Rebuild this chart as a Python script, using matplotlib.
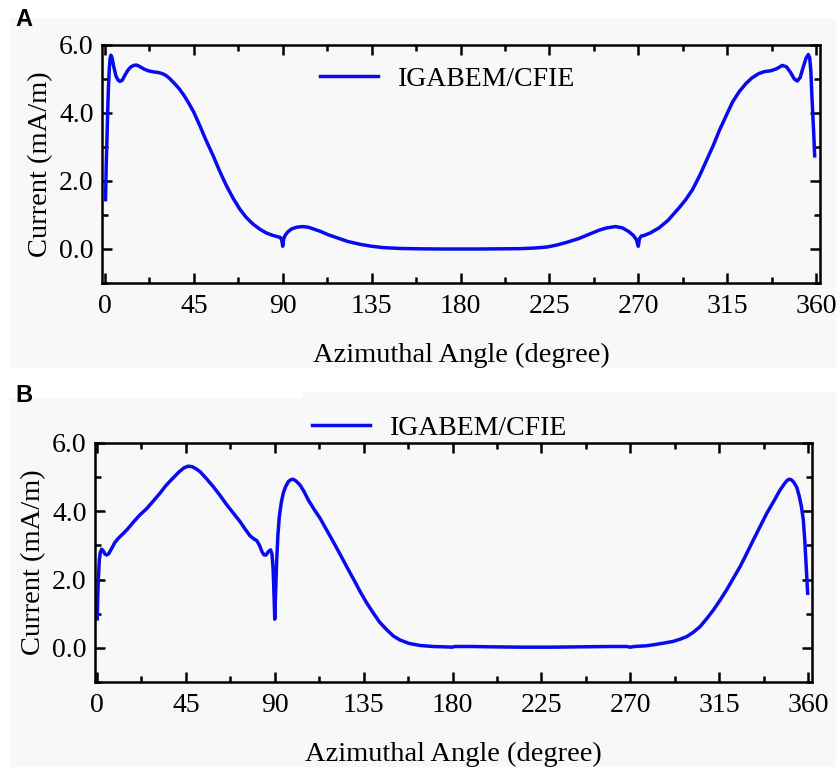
import matplotlib
matplotlib.use("Agg")
import matplotlib.pyplot as plt
from matplotlib.patches import Rectangle
from matplotlib.ticker import MultipleLocator, FormatStrFormatter

# Panel A: surface current vs azimuthal angle
theta_a = [0.3, 0.6, 1.0, 1.4, 1.7, 2.2, 2.6, 3.0, 3.6, 4.5, 5.5, 6.5, 7.5, 8.7,
           10.0, 11.5, 13.0, 14.5, 16.0, 17.5, 19.5, 22.0, 24.5, 27.0, 29.0, 31.0,
           33.0, 35.0, 37.5, 40.0, 42.5, 45.0, 48.0, 51.0, 54.8, 58.0, 61.5, 65.0,
           68.3, 71.5, 75.0, 78.5, 81.7, 85.0, 87.5, 88.8, 89.5, 90.0, 90.5, 91.2,
           92.5, 94.5, 97.0, 100.0, 103.0, 106.0, 109.0, 113.0, 118.0, 123.0,
           129.0, 135.0, 141.0, 150.0, 160.0, 170.0, 180.0, 190.0, 200.0, 210.0,
           218.0, 224.0, 229.0, 234.0, 240.0, 245.0, 250.0, 254.0, 258.5, 262.0,
           265.0, 267.5, 269.0, 270.0, 270.6, 271.5, 273.0, 276.0, 280.5, 285.0,
           290.5, 294.0, 297.5, 301.0, 304.5, 308.0, 311.0, 314.5, 317.7, 321.0,
           324.4, 327.5, 331.0, 334.0, 337.0, 340.0, 342.9, 345.0, 347.0, 349.0,
           350.5, 352.0, 353.5, 355.0, 356.1, 356.8, 357.4, 357.9, 358.4, 358.9,
           359.3]
current_a = [1.45, 2.4, 3.2, 4.1, 4.66, 5.3, 5.6, 5.70, 5.62, 5.35, 5.10, 4.98,
             4.93, 4.96, 5.10, 5.25, 5.35, 5.40, 5.41, 5.37, 5.30, 5.24, 5.21,
             5.19, 5.16, 5.10, 5.00, 4.88, 4.72, 4.52, 4.28, 4.02, 3.63, 3.22,
             2.74, 2.30, 1.86, 1.48, 1.17, 0.93, 0.73, 0.58, 0.47, 0.40, 0.36,
             0.34, 0.26, 0.08, 0.30, 0.40, 0.50, 0.59, 0.64, 0.66, 0.64, 0.58,
             0.52, 0.42, 0.32, 0.22, 0.14, 0.08, 0.04, 0.015, 0.005, 0.0, 0.0,
             0.0, 0.005, 0.01, 0.03, 0.06, 0.12, 0.20, 0.31, 0.43, 0.55, 0.62,
             0.66, 0.62, 0.52, 0.40, 0.28, 0.08, 0.30, 0.38, 0.40, 0.47, 0.62,
             0.84, 1.20, 1.45, 1.75, 2.15, 2.60, 3.05, 3.48, 3.92, 4.32, 4.62,
             4.86, 5.03, 5.16, 5.22, 5.24, 5.30, 5.40, 5.36, 5.20, 5.00, 4.94,
             5.05, 5.35, 5.62, 5.72, 5.62, 5.20, 4.50, 3.90, 3.30, 2.74]

# Panel B
theta_b = [0.15, 0.4, 0.66, 1.2, 1.7, 2.4, 3.2, 4.0, 4.9, 6.0, 7.5, 9.1, 11.0,
           13.3, 15.5, 18.4, 21.5, 25.2, 28.5, 31.9, 35.0, 38.6, 41.5, 44.0,
           46.0, 48.0, 50.0, 52.2, 55.5, 58.9, 62.5, 65.7, 69.0, 72.4, 75.0,
           77.5, 79.5, 80.9, 82.3, 83.5, 84.6, 85.6, 86.8, 87.9, 88.6, 89.2,
           89.6, 90.0, 90.4, 91.0, 91.6, 92.3, 93.3, 94.3, 95.5, 96.9, 98.0,
           99.1, 100.5, 102.8, 104.8, 107.0, 110.0, 112.9, 116.0, 119.6, 123.0,
           126.4, 130.0, 133.2, 136.5, 139.9, 143.0, 146.7, 150.0, 153.4, 158.0,
           163.5, 170.0, 176.0, 180.0, 181.0, 190.0, 200.0, 215.0, 230.0, 245.0,
           260.0, 268.0, 270.0, 272.0, 278.0, 281.7, 287.0, 291.8, 295.5, 298.6,
           302.0, 305.3, 308.5, 312.1, 315.5, 318.8, 322.0, 325.6, 329.0, 332.3,
           335.7, 339.1, 342.5, 345.8, 348.2, 349.5, 350.5, 351.6, 352.8, 354.3,
           355.5, 356.6, 357.6, 358.4, 359.1, 359.8]
current_b = [0.85, 1.5, 1.99, 2.58, 2.80, 2.89, 2.84, 2.75, 2.72, 2.76, 2.92,
             3.09, 3.22, 3.35, 3.48, 3.68, 3.88, 4.08, 4.30, 4.53, 4.76, 4.98,
             5.15, 5.27, 5.32, 5.31, 5.25, 5.16, 4.95, 4.72, 4.45, 4.19, 3.95,
             3.70, 3.48, 3.28, 3.19, 3.14, 3.00, 2.82, 2.72, 2.72, 2.82, 2.87,
             2.75, 2.28, 1.60, 0.84, 1.55, 2.58, 3.30, 3.84, 4.25, 4.53, 4.72,
             4.87, 4.92, 4.94, 4.90, 4.77, 4.58, 4.33, 4.05, 3.80, 3.48, 3.11,
             2.75, 2.38, 2.00, 1.65, 1.32, 1.02, 0.76, 0.53, 0.35, 0.23, 0.13,
             0.07, 0.04, 0.03, 0.02, 0.04, 0.04, 0.03, 0.02, 0.02, 0.03, 0.04,
             0.04, 0.02, 0.04, 0.06, 0.09, 0.14, 0.19, 0.26, 0.33, 0.46, 0.62,
             0.84, 1.11, 1.40, 1.70, 2.02, 2.38, 2.77, 3.16, 3.55, 3.94, 4.28,
             4.62, 4.82, 4.91, 4.94, 4.92, 4.85, 4.70, 4.45, 4.15, 3.75, 3.10,
             2.35, 1.60]

W, H = 837, 767
BG = "#f8f8f8"
BLUE = "#0a0aee"
SERIF = ["Liberation Serif", "DejaVu Serif"]

plt.rcParams["font.family"] = SERIF


def fx(px):
    return px / W


def fy(py):
    return 1 - py / H


def box(l, t, r, b):
    return [fx(l), fy(b), fx(r) - fx(l), fy(t) - fy(b)]


def style(ax, xlim):
    ax.set_facecolor(BG)
    ax.set_xlim(*xlim)
    ax.set_ylim(-1, 6)
    ax.xaxis.set_major_locator(MultipleLocator(45))
    ax.xaxis.set_minor_locator(MultipleLocator(22.5))
    ax.yaxis.set_major_locator(MultipleLocator(2))
    ax.yaxis.set_minor_locator(MultipleLocator(1))
    ax.yaxis.set_major_formatter(FormatStrFormatter("%.1f"))
    ax.tick_params(which="both", direction="in", top=True, right=True,
                   width=1.8, labelsize=20)
    ax.tick_params(axis="x", which="major", pad=8)
    ax.tick_params(axis="y", which="major", pad=6)
    ax.tick_params(which="major", length=7)
    ax.tick_params(which="minor", length=4.5)
    for s in ax.spines.values():
        s.set_linewidth(1.8)
    ax.set_xlabel("Azimuthal Angle (degree)", fontsize=20.5, labelpad=17)
    ax.set_ylabel("Current (mA/m)", fontsize=20.5, labelpad=4)


fig = plt.figure(figsize=(W / 100, H / 100), dpi=100, facecolor="white")

# light grey panel backgrounds
for l, t, r, b in [(10, 18, W, 368), (10, 398, W, H), (302, 392, W, 399)]:
    fig.add_artist(Rectangle((fx(l), fy(b)), fx(r) - fx(l), fy(t) - fy(b),
                             transform=fig.transFigure, facecolor=BG,
                             edgecolor="none", zorder=0))

axA = fig.add_axes(box(102, 45, 820, 283))
axA.plot(theta_a, current_a, color=BLUE, lw=2.5, label="IGABEM/CFIE",
         solid_joinstyle="round")
style(axA, (-1.5, 362))
axA.legend(loc="center left", bbox_to_anchor=(fx(320), fy(79)),
           bbox_transform=fig.transFigure, frameon=False, fontsize=20,
           handlelength=2.1, handletextpad=0.7, borderpad=0, borderaxespad=0)

axB = fig.add_axes(box(95, 443, 812, 682))
axB.plot(theta_b, current_b, color=BLUE, lw=2.5, label="IGABEM/CFIE",
         solid_joinstyle="round")
style(axB, (-1, 362))
axB.legend(loc="center left", bbox_to_anchor=(fx(312), fy(428)),
           bbox_transform=fig.transFigure, frameon=False, fontsize=20,
           handlelength=2.1, handletextpad=0.7, borderpad=0, borderaxespad=0)

fig.text(fx(15), fy(20), "A", family=["Liberation Sans", "DejaVu Sans"],
         fontsize=17, fontweight="bold", va="center", ha="left")
fig.text(fx(15), fy(395), "B", family=["Liberation Sans", "DejaVu Sans"],
         fontsize=17, fontweight="bold", va="center", ha="left")

fig.savefig("out.png", dpi=100, facecolor="white")
